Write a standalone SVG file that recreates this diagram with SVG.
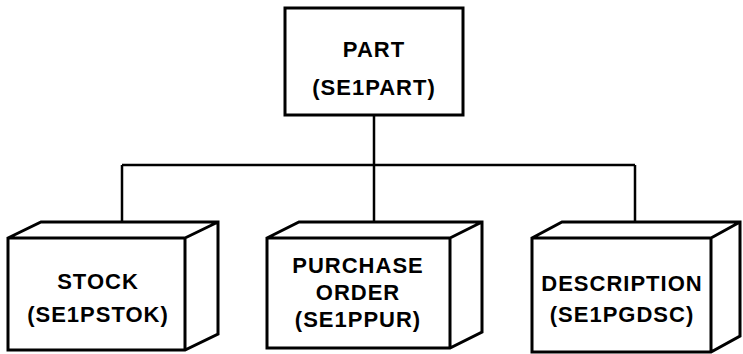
<svg xmlns="http://www.w3.org/2000/svg" width="743" height="354" viewBox="0 0 743 354">
<style>
.box{fill:#fff;stroke:#000;stroke-width:3;stroke-linejoin:miter}
.conn{fill:none;stroke:#000;stroke-width:2.5}
.t{font-family:"Liberation Sans",Arial,sans-serif;font-size:22px;font-weight:bold;text-anchor:middle;letter-spacing:1px;fill:#000}
</style>
<rect width="743" height="354" fill="#fff"/>
<g id="connectors">
<path class="conn" d="M374 115 V229 M122 165 H635 M122 165 V229 M635 165 V229"/>
</g>
<g id="part">
<rect class="box" x="285" y="8" width="178" height="107"/>
<text class="t" x="374" y="57">PART</text>
<text class="t" x="374" y="95">(SE1PART)</text>
</g>
<g id="stock">
<path class="box" d="M8 238 L41 222 H218 V334 L185 350 H8 Z M8 238 H185 V350 M185 238 L218 222"/>
<text class="t" x="98" y="289">STOCK</text>
<text class="t" x="98" y="322">(SE1PSTOK)</text>
</g>
<g id="purchase">
<path class="box" d="M267 238 L299 222 H482 V332 L450 348 H267 Z M267 238 H450 V348 M450 238 L482 222"/>
<text class="t" x="358" y="273">PURCHASE</text>
<text class="t" x="358" y="300">ORDER</text>
<text class="t" x="358" y="327">(SE1PPUR)</text>
</g>
<g id="description">
<path class="box" d="M532 238 L562 222 H740 V336 L711 352 H532 Z M532 238 H711 V352 M711 238 L740 222"/>
<text class="t" x="622" y="291">DESCRIPTION</text>
<text class="t" x="622" y="322">(SE1PGDSC)</text>
</g>
</svg>
